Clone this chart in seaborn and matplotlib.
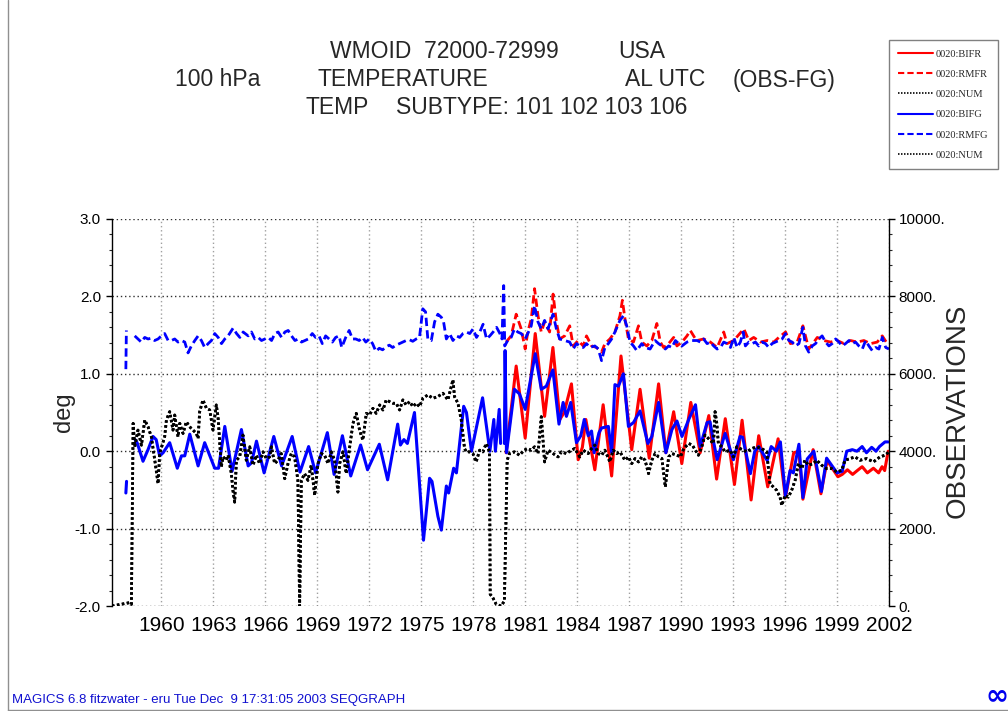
import numpy as np
import pandas as pd
import matplotlib
matplotlib.use("Agg")
import matplotlib.pyplot as plt
from matplotlib.lines import Line2D
from matplotlib.ticker import MultipleLocator, FixedLocator
import seaborn as sns

nan = float("nan")

# ---------------- data ----------------
year_ticks = list(range(1960, 2003, 3))
deg_ticks = [3.0, 2.0, 1.0, 0.0, -1.0, -2.0]
deg_tick_labels = ["3.0", "2.0", "1.0", "0.0", "-1.0", "-2.0"]
obs_ticks = [0, 2000, 4000, 6000, 8000, 10000]
obs_tick_labels = ["0.", "2000.", "4000.", "6000.", "8000.", "10000."]

# BIFG : blue solid (deg)
bifg_year = [1957.95, 1957.99, 1958.2, 1958.48, 1958.60, 1958.94, 1959.23, 1959.52, 1959.70, 1959.90,
             1960.10, 1960.48, 1960.92, 1961.16, 1961.35, 1961.64, 1962.12, 1962.50, 1963.08, 1963.30,
             1963.66, 1964.08, 1964.62, 1965.01, 1965.20, 1965.49, 1965.93, 1966.49, 1966.94, 1967.55,
             1968.00, 1968.50, 1968.90, 1969.58, 1969.97, 1970.45, 1970.93, 1971.50, 1971.90, 1972.58,
             1973.06, 1973.64, 1973.80, 1974.00, 1974.20, 1974.61, 1975.13, 1975.48, 1975.62, 1975.96,
             1976.16, 1976.45, 1976.58, 1976.87, 1977.03, 1977.45, 1977.61, 1977.90, 1978.54, 1978.96,
             1979.19, 1979.28, 1979.50, 1979.58, 1979.70, 1979.80, 1979.84, 1979.92, 1980.38, 1980.67,
             1981.00, 1981.58, 1981.93, 1982.22, 1982.60, 1982.95, 1983.19, 1983.38, 1983.63, 1983.96,
             1984.21, 1984.41, 1984.64, 1984.83, 1984.98, 1985.26, 1985.41, 1985.80, 1985.99, 1986.18,
             1986.38, 1986.67, 1986.96, 1987.25, 1987.63, 1988.08, 1988.31, 1988.70, 1989.12, 1989.47,
             1989.76, 1990.05, 1990.44, 1990.83, 1991.10, 1991.50, 1991.67, 1991.85, 1992.08, 1992.54,
             1993.02, 1993.40, 1993.55, 1994.00, 1994.25, 1994.48, 1994.97, 1995.20, 1995.50, 1995.73,
             1996.02, 1996.29, 1996.48, 1996.80, 1997.03, 1997.28, 1997.66, 1998.10, 1998.40, 1999.00,
             1999.30, 1999.56, 1999.88, 2000.15, 2000.45, 2000.70, 2001.00, 2001.25, 2001.45, 2001.77,
             2001.95]
bifg_deg = [-0.54, -0.39, nan, 0.15, 0.11, -0.13, 0.02, 0.19, 0.15, -0.06,
            -0.02, 0.11, -0.22, -0.06, -0.06, 0.22, -0.19, 0.11, -0.22, -0.22,
            0.32, -0.26, 0.28, -0.19, -0.15, 0.13, -0.28, 0.19, -0.19, 0.19,
            -0.27, 0.06, -0.28, 0.24, -0.30, 0.20, -0.32, 0.08, -0.24, 0.09,
            -0.37, 0.35, 0.08, 0.15, 0.10, 0.50, -1.15, -0.35, -0.39, -0.84,
            -1.02, -0.45, -0.54, -0.22, -0.28, 0.58, 0.50, 0.00, 0.69, 0.00,
            0.41, 0.00, 0.54, 0.10, nan, 0.10, 1.30, -0.02, 0.80, 0.74,
            0.54, 1.26, 0.80, 0.84, 1.05, 0.35, 0.63, 0.45, 0.63, 0.11,
            0.20, 0.41, 0.20, 0.26, -0.02, 0.24, 0.30, 0.32, -0.02, 0.86,
            0.84, 1.00, 0.32, 0.37, 0.52, 0.10, 0.19, 0.63, -0.02, 0.28,
            0.39, 0.19, 0.41, 0.60, 0.06, 0.37, 0.38, 0.15, -0.11, 0.23,
            -0.11, 0.19, 0.18, -0.29, 0.00, 0.06, -0.12, 0.06, 0.00, 0.12,
            -0.58, -0.25, -0.28, 0.09, -0.60, -0.10, 0.00, -0.52, -0.09, -0.28,
            -0.26, 0.00, 0.02, 0.00, 0.06, -0.02, 0.05, 0.00, 0.06, 0.12,
            0.12]

# BIFR : red solid (deg)
bifr_year = [1979.90, 1980.48, 1981.00, 1981.58, 1982.12, 1982.60, 1983.00, 1983.25, 1983.67, 1984.06,
             1984.30, 1984.50, 1985.02, 1985.50, 1985.99, 1986.53, 1987.15, 1987.63, 1988.16, 1988.70,
             1989.12, 1989.57, 1990.04, 1990.56, 1991.10, 1991.60, 1992.05, 1992.55, 1993.08, 1993.52,
             1994.04, 1994.48, 1995.00, 1995.60, 1996.02, 1996.50, 1996.80, 1997.03, 1997.62, 1998.07,
             1998.43, 1999.05, 1999.30, 1999.60, 1999.90, 2000.17, 2000.45, 2000.75, 2001.10, 2001.40,
             2001.60, 2001.75, 2001.95]
bifr_deg = [-0.02, 1.10, 0.17, 1.52, 0.45, 1.34, 0.41, 0.50, 0.87, -0.11,
            0.05, 0.41, -0.24, 0.60, -0.32, 1.23, 0.02, 0.80, -0.09, 0.87,
            -0.02, 0.51, -0.16, 0.63, -0.02, 0.46, -0.36, 0.42, -0.43, 0.40,
            -0.63, 0.20, -0.46, 0.16, -0.60, -0.02, 0.00, -0.62, 0.02, -0.55,
            -0.12, -0.33, -0.30, -0.24, -0.30, -0.25, -0.20, -0.28, -0.22, -0.28,
            -0.20, -0.25, 0.00]

# RMFG : blue dashed (deg)
rmfg_year = [1957.95, 1957.98, 1958.2, 1958.46, 1958.65, 1958.84, 1959.04, 1959.23, 1959.42, 1959.61,
             1959.81, 1960.00, 1960.19, 1960.39, 1960.58, 1960.77, 1960.96, 1961.16, 1961.35, 1961.54,
             1961.73, 1961.93, 1962.12, 1962.31, 1962.50, 1962.70, 1962.89, 1963.08, 1963.28, 1963.47,
             1963.66, 1963.85, 1964.14, 1964.34, 1964.53, 1964.72, 1965.01, 1965.20, 1965.39, 1965.59,
             1965.78, 1965.97, 1966.17, 1966.36, 1966.55, 1966.74, 1966.94, 1967.13, 1967.32, 1967.51,
             1967.71, 1967.90, 1968.09, 1968.29, 1968.48, 1968.71, 1968.90, 1969.10, 1969.29, 1969.48,
             1969.68, 1969.87, 1970.06, 1970.26, 1970.41, 1970.64, 1970.84, 1971.03, 1971.22, 1971.42,
             1971.61, 1971.80, 1972.00, 1972.19, 1972.38, 1972.58, 1972.77, 1972.97, 1973.16, 1973.35,
             1973.55, 1973.74, 1973.93, 1974.13, 1974.32, 1974.51, 1974.71, 1974.90, 1975.09, 1975.25,
             1975.38, 1975.58, 1975.77, 1975.96, 1976.16, 1976.29, 1976.45, 1976.64, 1976.83, 1977.03,
             1977.22, 1977.41, 1977.61, 1977.80, 1977.99, 1978.19, 1978.38, 1978.57, 1978.77, 1978.96,
             1979.15, 1979.35, 1979.54, 1979.66, 1979.76, 1979.82, 1979.99, 1980.19, 1980.38, 1980.57,
             1980.77, 1981.00, 1981.15, 1981.35, 1981.54, 1981.74, 1981.93, 1982.12, 1982.32, 1982.51,
             1982.61, 1982.80, 1982.99, 1983.28, 1983.57, 1983.77, 1983.96, 1984.15, 1984.35, 1984.54,
             1984.73, 1985.02, 1985.22, 1985.41, 1985.60, 1985.80, 1985.99, 1986.18, 1986.47, 1986.67,
             1986.86, 1987.05, 1987.25, 1987.44, 1987.73, 1987.92, 1988.21, 1988.50, 1988.70, 1988.89,
             1989.09, 1989.28, 1989.47, 1989.67, 1989.86, 1990.05, 1990.34, 1990.63, 1990.83, 1990.92,
             1991.11, 1991.30, 1991.50, 1991.69, 1991.88, 1992.08, 1992.27, 1992.46, 1992.65, 1992.85,
             1993.04, 1993.23, 1993.42, 1993.58, 1993.71, 1993.91, 1994.10, 1994.29, 1994.48, 1994.68,
             1994.87, 1995.06, 1995.25, 1995.45, 1995.64, 1995.83, 1996.03, 1996.22, 1996.41, 1996.60,
             1996.80, 1997.03, 1997.18, 1997.37, 1997.57, 1997.76, 1997.95, 1998.14, 1998.34, 1998.53,
             1998.72, 1998.92, 1999.11, 1999.30, 1999.49, 1999.69, 1999.88, 2000.07, 2000.26, 2000.46,
             2000.65, 2000.84, 2001.03, 2001.23, 2001.42, 2001.61, 2001.81, 2002.00]
rmfg_deg = [1.06, 1.56, nan, 1.49, 1.45, 1.41, 1.47, 1.45, 1.46, 1.43,
            1.45, 1.49, 1.52, 1.43, 1.43, 1.45, 1.41, 1.43, 1.41, 1.27,
            1.36, 1.43, 1.49, 1.43, 1.34, 1.39, 1.43, 1.52, 1.47, 1.39,
            1.45, 1.49, 1.59, 1.52, 1.47, 1.54, 1.49, 1.54, 1.45, 1.47,
            1.43, 1.45, 1.47, 1.43, 1.52, 1.54, 1.47, 1.54, 1.56, 1.49,
            1.43, 1.45, 1.41, 1.43, 1.45, 1.52, 1.47, 1.49, 1.39, 1.49,
            1.45, 1.41, 1.47, 1.49, 1.34, 1.47, 1.56, 1.45, 1.45, 1.43,
            1.47, 1.41, 1.45, 1.39, 1.29, 1.33, 1.31, 1.35, 1.37, 1.34,
            1.37, 1.39, 1.41, 1.43, 1.44, 1.42, 1.45, 1.47, 1.84, 1.80,
            1.45, 1.43, 1.67, 1.77, 1.73, 1.67, 1.45, 1.52, 1.43, 1.49,
            1.47, 1.52, 1.54, 1.52, 1.58, 1.47, 1.54, 1.64, 1.45, 1.49,
            1.54, 1.60, 1.52, 1.45, 2.14, 1.36, 1.43, 1.47, 1.58, 1.54,
            1.52, 1.45, 1.52, 1.62, 1.88, 1.67, 1.58, 1.69, 1.58, 1.71,
            1.77, 1.58, 1.45, 1.43, 1.41, 1.32, 1.39, 1.36, 1.34, 1.39,
            1.34, 1.36, 1.32, 1.17, 1.34, 1.39, 1.45, 1.54, 1.69, 1.75,
            1.62, 1.41, 1.36, 1.30, 1.39, 1.34, 1.32, 1.43, 1.39, 1.36,
            1.32, 1.36, 1.34, 1.43, 1.39, 1.36, 1.41, 1.43, 1.43, 1.43,
            1.41, 1.45, 1.39, 1.41, 1.36, 1.32, 1.34, 1.41, 1.39, 1.34,
            1.47, 1.34, 1.41, 1.54, 1.36, 1.41, 1.39, 1.41, 1.36, 1.41,
            1.39, 1.34, 1.39, 1.41, 1.43, 1.45, 1.52, 1.43, 1.41, 1.36,
            1.39, 1.60, 1.36, 1.28, 1.36, 1.39, 1.45, 1.49, 1.41, 1.36,
            1.39, 1.45, 1.41, 1.36, 1.39, 1.43, 1.39, 1.41, 1.36, 1.32,
            1.43, 1.36, 1.30, 1.34, 1.32, 1.47, 1.34, 1.32]

# RMFR : red dashed (deg)
rmfr_year = [1979.90, 1980.19, 1980.48, 1980.77, 1981.00, 1981.15, 1981.35, 1981.54, 1981.74, 1981.93,
             1982.12, 1982.41, 1982.61, 1982.80, 1982.99, 1983.28, 1983.57, 1983.77, 1984.06, 1984.35,
             1984.54, 1984.83, 1985.12, 1985.41, 1985.60, 1985.89, 1986.18, 1986.47, 1986.61, 1986.76,
             1986.96, 1987.25, 1987.54, 1987.73, 1988.02, 1988.31, 1988.60, 1988.80, 1988.99, 1989.28,
             1989.57, 1989.76, 1990.05, 1990.34, 1990.53, 1990.83, 1990.92, 1991.30, 1991.69, 1992.08,
             1992.46, 1992.65, 1993.04, 1993.62, 1993.91, 1994.19, 1994.58, 1994.97, 1995.35, 1995.64,
             1996.03, 1996.31, 1996.70, 1997.03, 1997.37, 1997.86, 1998.24, 1998.63, 1999.01, 1999.40,
             1999.78, 2000.17, 2000.55, 2000.94, 2001.32, 2001.61, 2001.90]
rmfr_deg = [1.41, 1.49, 1.77, 1.58, 1.32, 1.54, 1.71, 2.10, 1.75, 1.54,
            1.67, 1.54, 2.03, 1.67, 1.45, 1.49, 1.62, 1.36, 1.43, 1.36,
            1.49, 1.36, 1.34, 1.28, 1.39, 1.45, 1.54, 1.75, 1.95, 1.71,
            1.45, 1.41, 1.62, 1.41, 1.36, 1.43, 1.65, 1.41, 1.34, 1.39,
            1.47, 1.36, 1.41, 1.49, 1.56, 1.45, 1.43, 1.45, 1.41, 1.34,
            1.54, 1.39, 1.43, 1.58, 1.43, 1.47, 1.41, 1.43, 1.41, 1.47,
            1.54, 1.39, 1.41, 1.62, 1.32, 1.47, 1.43, 1.41, 1.43, 1.39,
            1.43, 1.41, 1.43, 1.39, 1.41, 1.49, 1.39]

# NUM : number of observations (right axis)
num_year = [1957.15, 1958.17, 1958.27, 1958.37, 1958.46, 1958.65, 1958.85, 1959.04, 1959.23, 1959.42,
            1959.62, 1959.81, 1959.90, 1960.19, 1960.29, 1960.48, 1960.67, 1960.77, 1960.96, 1961.06,
            1961.25, 1961.44, 1961.63, 1961.83, 1962.02, 1962.12, 1962.21, 1962.40, 1962.60, 1962.79,
            1962.98, 1963.17, 1963.27, 1963.46, 1963.56, 1963.75, 1963.85, 1964.04, 1964.13, 1964.23,
            1964.33, 1964.52, 1964.71, 1964.90, 1965.10, 1965.29, 1965.48, 1965.67, 1965.87, 1966.06,
            1966.25, 1966.35, 1966.54, 1966.73, 1966.92, 1967.12, 1967.31, 1967.50, 1967.69, 1967.88,
            1967.98, 1968.08, 1968.27, 1968.46, 1968.65, 1968.85, 1969.04, 1969.23, 1969.42, 1969.62,
            1969.81, 1970.00, 1970.19, 1970.29, 1970.48, 1970.67, 1970.87, 1971.06, 1971.25, 1971.44,
            1971.63, 1971.73, 1971.83, 1972.02, 1972.21, 1972.40, 1972.60, 1972.79, 1972.98, 1973.17,
            1973.37, 1973.56, 1973.75, 1973.94, 1974.13, 1974.33, 1974.52, 1974.71, 1974.90, 1975.10,
            1975.38, 1975.67, 1975.96, 1976.25, 1976.54, 1976.83, 1976.92, 1977.12, 1977.31, 1977.50,
            1977.60, 1977.79, 1977.98, 1978.17, 1978.37, 1978.56, 1978.75, 1978.94, 1978.98, 1979.13,
            1979.33, 1979.61, 1979.80, 1979.96, 1980.09, 1980.38, 1980.67, 1980.94, 1981.15, 1981.35,
            1981.54, 1981.74, 1981.93, 1982.12, 1982.32, 1982.61, 1982.90, 1983.09, 1983.38, 1983.67,
            1983.86, 1984.15, 1984.35, 1984.64, 1984.83, 1985.02, 1985.22, 1985.41, 1985.60, 1985.89,
            1986.08, 1986.28, 1986.47, 1986.76, 1986.96, 1987.15, 1987.34, 1987.54, 1987.73, 1987.92,
            1988.12, 1988.31, 1988.50, 1988.70, 1988.89, 1989.09, 1989.28, 1989.47, 1989.76, 1989.96,
            1990.15, 1990.44, 1990.65, 1991.00, 1991.19, 1991.38, 1991.67, 1991.87, 1991.96, 1992.06,
            1992.15, 1992.35, 1992.54, 1992.83, 1993.02, 1993.21, 1993.40, 1993.60, 1993.79, 1994.08,
            1994.37, 1994.65, 1994.94, 1995.13, 1995.33, 1995.52, 1995.71, 1995.81, 1996.00, 1996.19,
            1996.38, 1996.58, 1996.77, 1996.96, 1997.15, 1997.35, 1997.63, 1997.83, 1998.12, 1998.40,
            1998.69, 1998.98, 1999.27, 1999.46, 1999.75, 2000.04, 2000.33, 2000.71, 2001.10, 2001.48,
            2001.77, 2002.00]
num_obs = [0, 87, 43, 4719, 4113, 4545, 4156, 4805, 4632, 4372,
           3766, 3160, 3939, 4372, 4805, 5022, 4545, 4935, 4372, 4719,
           4459, 4762, 4632, 4545, 4459, 4329, 5022, 5325, 5108, 5065,
           4545, 5195, 4892, 3593, 3853, 3766, 3896, 3420, 2987, 2684,
           3766, 3853, 4416, 3766, 4113, 3636, 3896, 3680, 3983, 3810,
           3853, 4113, 3680, 3766, 3939, 3290, 3680, 3939, 3853, 3247,
           0, 3247, 3420, 3247, 3636, 2857, 3680, 3939, 3896, 3680,
           3983, 3766, 2944, 3680, 3983, 3420, 4113, 4719, 4978, 4545,
           4286, 4632, 4978, 4935, 5108, 4978, 5195, 5065, 5325, 5281,
           5238, 5238, 5065, 5325, 5195, 5281, 5152, 5238, 5152, 5368,
           5455, 5368, 5411, 5498, 5325, 5844, 5411, 5238, 4805, 4069,
           3983, 3983, 3939, 3723, 4026, 3983, 4199, 3983, 303, 216,
           43, 0, 130, 3766, 3939, 3983, 3896, 4026, 4069, 4026,
           4113, 3939, 4892, 3723, 4026, 3939, 3853, 3983, 3939, 4026,
           4069, 3853, 4026, 3939, 4069, 4156, 3939, 3896, 4026, 3723,
           4026, 3939, 3983, 3766, 3853, 3680, 3810, 3723, 3853, 3766,
           3420, 3766, 3939, 3853, 3810, 3074, 3853, 3939, 3896, 3853,
           4069, 4199, 4156, 3896, 4113, 4416, 4286, 4199, 5022, 4719,
           4199, 4113, 3983, 4026, 3853, 4113, 4069, 4026, 3983, 4069,
           4113, 4069, 3983, 3160, 3074, 2987, 2814, 2597, 2857, 2814,
           2987, 3247, 3680, 3550, 3766, 3636, 3680, 3766, 3636, 3550,
           3550, 3463, 3507, 3766, 3810, 3853, 3766, 3810, 3723, 3853,
           3896, 3983]

legend_labels = ["0020:BIFR", "0020:RMFR", "0020:NUM", "0020:BIFG", "0020:RMFG", "0020:NUM"]

# ---------------- styling ----------------
sns.set_theme(style="white")
plt.rcParams["font.family"] = ["Liberation Sans", "DejaVu Sans"]
plt.rcParams["axes.unicode_minus"] = False

W, H = 1008, 711
fig = plt.figure(figsize=(W / 100, H / 100), dpi=100)
fig.patch.set_facecolor("white")

ax_l, ax_r, ax_t, ax_b = 112, 889, 219, 606
ax = fig.add_axes([ax_l / W, 1 - ax_b / H, (ax_r - ax_l) / W, (ax_b - ax_t) / H])
ax.set_facecolor("white")
ax2 = ax.twinx()


def frame(years, vals):
    df = pd.DataFrame({"year": years, "value": vals})
    df["seg"] = df["value"].isna().cumsum()
    return df.dropna()


RED, BLUE = "#ff0000", "#0000ff"
dash = (0, (3.0, 1.5))
dot = (0, (0.9, 0.9))

common = dict(x="year", y="value", units="seg", estimator=None, sort=False, legend=False)
sns.lineplot(data=frame(bifr_year, bifr_deg), color=RED, lw=2.2, ax=ax, **common)
sns.lineplot(data=frame(rmfr_year, rmfr_deg), color=RED, lw=2.0, linestyle=dash, ax=ax, **common)
sns.lineplot(data=frame(bifg_year, bifg_deg), color=BLUE, lw=2.2, ax=ax, **common)
sns.lineplot(data=frame(rmfg_year, rmfg_deg), color=BLUE, lw=2.0, linestyle=dash, ax=ax, **common)
sns.lineplot(data=frame(num_year, num_obs), color="black", lw=2.0, linestyle=dot, ax=ax2, **common)
sns.lineplot(data=frame(num_year, num_obs), color="black", lw=2.0, linestyle=dot, ax=ax2, **common)

ax.set_xlim(1957.15, 2002.0)
ax.set_ylim(-2.0, 3.0)
ax2.set_ylim(0, 10000)
for a in (ax, ax2):
    a.set_xlabel("")
    a.set_ylabel("")
    for s in ("top", "bottom"):
        a.spines[s].set_visible(False)

ax.spines["left"].set_color("black")
ax.spines["left"].set_linewidth(1.0)
ax.spines["right"].set_visible(False)
ax2.spines["left"].set_visible(False)
ax2.spines["right"].set_color("black")
ax2.spines["right"].set_linewidth(1.0)

ax.xaxis.set_major_locator(FixedLocator(year_ticks))
ax.set_xticklabels([str(y) for y in year_ticks], fontsize=15)
ax.tick_params(axis="x", length=0, pad=7, colors="black")

ax.yaxis.set_major_locator(FixedLocator(deg_ticks))
ax.set_yticklabels(deg_tick_labels, fontsize=11)
ax.yaxis.set_minor_locator(MultipleLocator(0.2))
ax.tick_params(axis="y", which="major", left=True, direction="out", length=4, width=1, pad=4, colors="black")
ax.tick_params(axis="y", which="minor", left=True, direction="out", length=2.5, width=0.8)

ax2.yaxis.set_major_locator(FixedLocator(obs_ticks))
ax2.set_yticklabels(obs_tick_labels, fontsize=11)
ax2.yaxis.set_minor_locator(MultipleLocator(400))
ax2.tick_params(axis="y", which="major", right=True, direction="out", length=4, width=1, pad=3, colors="black")
ax2.tick_params(axis="y", which="minor", right=True, direction="out", length=2.5, width=0.8)

ax.xaxis.grid(True, color="#a0a0a0", linestyle=(0, (1, 2)), linewidth=1.0)
ax.yaxis.grid(True, which="major", color="#303030", linestyle=(0, (1, 2)), linewidth=1.0)
ax.yaxis.grid(False, which="minor")
ax2.grid(False)
ax.set_axisbelow(True)

# axis titles
fig.text(64 / W, 1 - 412 / H, "deg", rotation=90, ha="center", va="center", fontsize=17)
fig.text(958 / W, 1 - 411 / H, "OBSERVATIONS", rotation=90, ha="center", va="center", fontsize=20)

# header
TF = 16.5
def htext(x, y, s):
    fig.text(x / W, 1 - y / H, s, ha="left", va="center", fontsize=TF)

htext(330, 52, "WMOID  72000-72999")
htext(618, 52, "USA")
htext(175, 80, "100 hPa")
htext(317, 80, "TEMPERATURE")
htext(625, 80, "AL UTC")
htext(733, 80, "(OBS-FG)")
htext(306, 108, "TEMP")
htext(396, 108, "SUBTYPE: 101 102 103 106")

# legend
handles = [
    Line2D([], [], color=RED, lw=1.5),
    Line2D([], [], color=RED, lw=1.5, linestyle=dash),
    Line2D([], [], color="black", lw=1.2, linestyle=dot),
    Line2D([], [], color=BLUE, lw=1.5),
    Line2D([], [], color=BLUE, lw=1.5, linestyle=dash),
    Line2D([], [], color="black", lw=1.2, linestyle=dot),
]
leg = fig.legend(handles, legend_labels, loc="upper left", bbox_to_anchor=(889 / W, 1 - 40 / H),
                 frameon=True, fancybox=False, edgecolor="#808080", framealpha=1,
                 prop={"family": "Liberation Serif", "size": 7.5},
                 handlelength=3.3, handletextpad=0.3, labelspacing=1.05, borderpad=0.9,
                 borderaxespad=0)
leg.get_frame().set_linewidth(1.0)

# footer and page frame
fig.text(12 / W, 1 - 700 / H, "MAGICS 6.8 fitzwater - eru Tue Dec  9 17:31:05 2003 SEQGRAPH",
         ha="left", va="center", fontsize=9.5, color="#1010d0")
fig.add_artist(Line2D([7.5 / W, 7.5 / W], [0, 1], color="#909090", lw=1.0, transform=fig.transFigure))
fig.add_artist(Line2D([7.5 / W, 1], [1.5 / H, 1.5 / H], color="#909090", lw=1.0, transform=fig.transFigure))
fig.text(997 / W, 1 - 695 / H, "\u221e", ha="center", va="center", fontsize=20,
         fontweight="bold", color="#0000ee", family="DejaVu Sans")

fig.savefig("out.png", dpi=100, facecolor="white")
